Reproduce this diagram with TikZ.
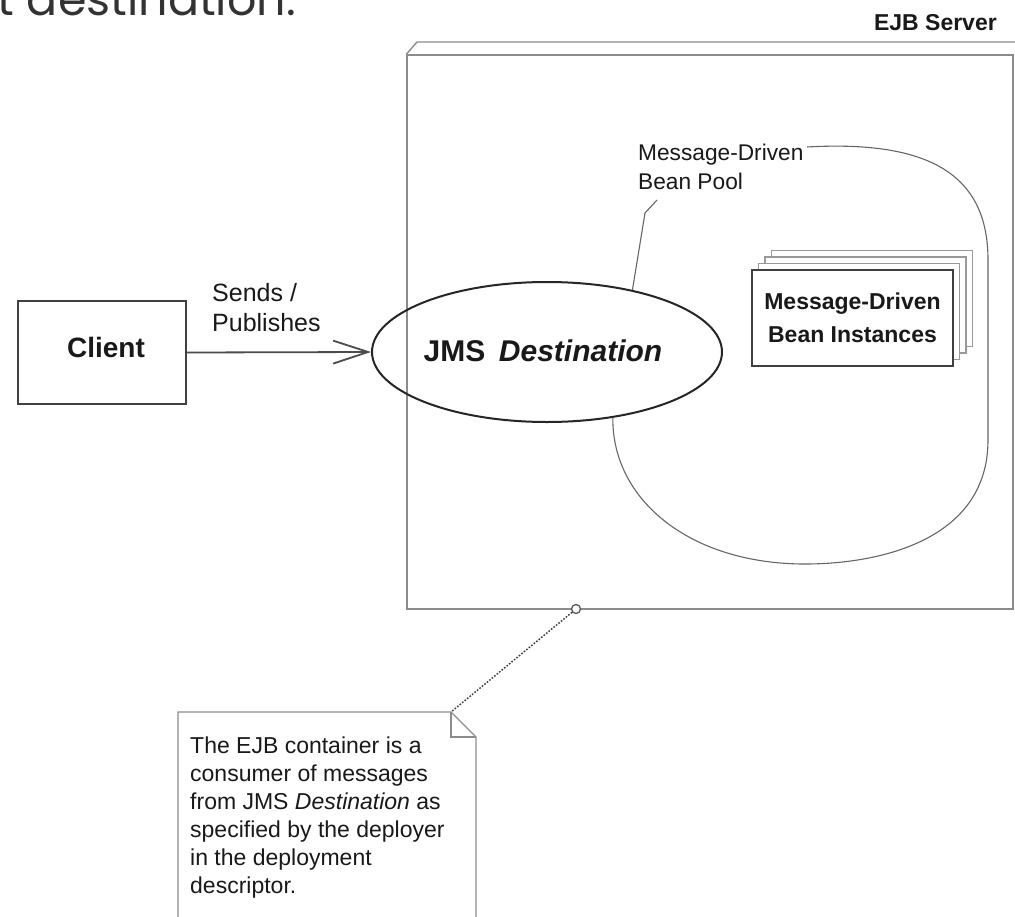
\documentclass[tikz,border=0pt]{standalone}
\usepackage{fontspec}
\setmainfont{Liberation Sans}
\newfontfamily\headfont{Poppins}
\usetikzlibrary{shapes.geometric,arrows.meta}

\newcommand{\fsz}[2]{\fontsize{#1}{#2}\selectfont}

\begin{document}
\begin{tikzpicture}[x=1pt,y=-1pt,
  frameline/.style={draw=black!45, line width=1.4pt},
  darkbox/.style={draw=black!75, line width=1.8pt},
  poolline/.style={draw=black!60, line width=1.1pt},
  backbox/.style={draw=black!40, line width=1.5pt, fill=white,
                  minimum width=201, minimum height=96, inner sep=0},
  label/.style={inner sep=0, text=black!90},
]
\useasboundingbox (0,0) rectangle (1015,916);
\begin{scope}
\clip (0,0) rectangle (1015,916);
\fill[white] (0,0) rectangle (1015,916);

% heading line running off the top edge
\node[font=\headfont\fsz{46}{46}, text=black!80, anchor=base east, inner sep=0]
  (head) at (296,15) {t destination.};

% EJB server container, drawn with a raised top edge
\node[frameline, minimum width=606, minimum height=554, inner sep=0] (server) at (710,332) {};
\draw[frameline] (server.north west) -- (417,42) -- (1020,42);
\node[label, font=\bfseries\fsz{23}{23}, anchor=east] (serverlbl) at (997,23) {EJB Server};

% client
\node[darkbox, minimum width=168, minimum height=103, inner sep=0] (client) at (102,352.5) {};
\node[label, font=\bfseries\fsz{28}{28}] (clientlbl) at (106,347) {Client};

% JMS destination
\node[draw=black!85, line width=2pt, ellipse, minimum width=350, minimum height=140, inner sep=0]
  (dest) at (547,352) {};
\node[label, font=\bfseries\fsz{30}{30}] (destlbl) at (543,351)
  {JMS\hspace{0.45em}\textit{Destination}};

\draw[line width=1.8pt, draw=black!70, -{Straight Barb[length=35pt,width=23pt]}]
  (client.east) -- (dest.west);
\node[label, font=\fsz{25}{30}, align=left, anchor=north west] (sends) at (212,283)
  {Sends /\\Publishes};

% message-driven bean pool
\node[label, font=\fsz{22.7}{29}, align=left, anchor=north west] (poollbl) at (638,144)
  {Message-Driven\\Bean Pool};
\coordinate (poolstart) at (807,147);
\coordinate (leadtop) at (657,200);
\coordinate (leadbend) at (645,213);
\draw[poolline] (leadtop) -- (leadbend) -- (dest.36);
\draw[poolline] (poolstart) .. controls (930,140) and (988,175) .. (988,260)
  -- (988,440) .. controls (988,540) and (880,564) .. (805,564)
  .. controls (690,564) and (612,500) .. (dest.-45);

% stacked bean instances
\foreach \k in {3,2,1}
  \node[backbox] (bean\k) at ({852.5+6.5*\k},{318-6.5*\k}) {};
\node[backbox, draw=black!75, line width=2pt, font=\bfseries\fsz{23}{33}, align=center,
  text=black!90] (beans) at (852.5,318) {Message-Driven\\Bean Instances};

% note attached to the container
\node[circle, draw=black!65, line width=1.3pt, fill=white, minimum size=9, inner sep=0]
  (ring) at (576,609) {};
\coordinate (notecorner) at (451,712);
\draw[draw=black!75, line width=1.5pt, dash pattern=on 1.6pt off 1.6pt] (ring) -- (notecorner);
\draw[frameline] (178,930) -- (178,712) -- (notecorner) -- (476,737) -- (476,930);
\draw[frameline] (notecorner) -- (451,737) -- (476,737);
\node[label, font=\fsz{23}{28}, align=left, anchor=north west] (note) at (190,737)
  {The EJB container is a\\consumer of messages\\from JMS \textit{Destination} as\\
   specified by the deployer\\in the deployment\\descriptor.};
\end{scope}
\end{tikzpicture}
\end{document}
